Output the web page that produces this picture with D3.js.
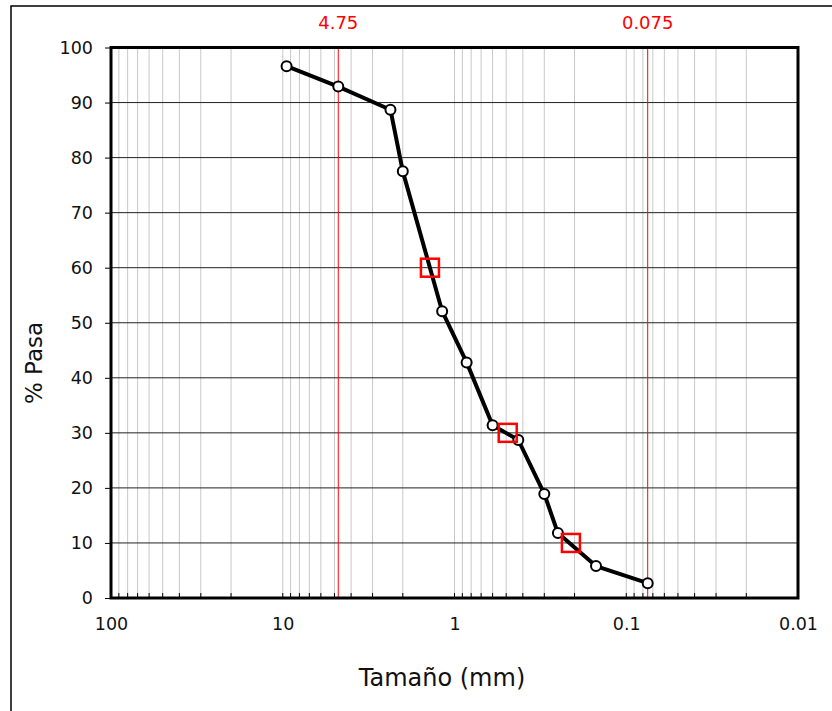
<!DOCTYPE html>
<html>
<head>
<meta charset="utf-8">
<script src="https://cdn.jsdelivr.net/npm/d3@7"></script>
<style>
  body { margin: 0; background: #fff; }
  text { font-family: "DejaVu Sans", Verdana, sans-serif; }
</style>
</head>
<body>
<div id="container"></div>
<script>
// granulometria: tamaño (mm) y % que pasa
const sizes   = [9.5, 4.75, 2.36, 2.0, 1.18, 0.85, 0.6, 0.425, 0.3, 0.25, 0.15, 0.075];
const passing = [96.6, 92.9, 88.7, 77.5, 52.1, 42.8, 31.4, 28.7, 18.9, 11.8, 5.8, 2.7];
// D60, D30, D10
const dSizes   = [1.39, 0.49, 0.21];
const dPassing = [60, 30, 10];
// lineas de referencia
const refLines = [4.75, 0.075];
const xTicks = [100, 10, 1, 0.1, 0.01];
const yTicks = [0, 10, 20, 30, 40, 50, 60, 70, 80, 90, 100];

const width = 832, height = 711;
const m = {left: 111, right: 798, top: 47.5, bottom: 598};

const svg = d3.select("#container").append("svg")
    .attr("width", width)
    .attr("height", height);

// marco exterior
svg.append("path")
    .attr("d", `M11,${height} L11,6 L${width},6`)
    .attr("fill", "none")
    .attr("stroke", "#000")
    .attr("stroke-width", 1.5);

const x = d3.scaleLog().domain([100, 0.01]).range([m.left, m.right]);
const y = d3.scaleLinear().domain([0, 100]).range([m.bottom, m.top]);

// grilla vertical (menores)
const minor = [];
for (let e = -2; e < 2; e++)
  for (let k = 1; k < 10; k++) minor.push(k * Math.pow(10, e));
const inner = minor.filter(v => v > 0.01 && v < 100);

svg.append("g")
    .attr("stroke", "#c8c8c8")
    .attr("stroke-width", 1)
  .selectAll("line")
  .data(inner)
  .join("line")
    .attr("x1", d => x(d)).attr("x2", d => x(d))
    .attr("y1", m.top).attr("y2", m.bottom);

// marcas menores sobre el eje x
svg.append("g")
    .attr("stroke", "#000")
    .attr("stroke-width", 1)
  .selectAll("line")
  .data(inner)
  .join("line")
    .attr("x1", d => x(d)).attr("x2", d => x(d))
    .attr("y1", m.bottom - 5).attr("y2", m.bottom);

// grilla horizontal
svg.append("g")
    .attr("stroke", "#222")
    .attr("stroke-width", 1)
  .selectAll("line")
  .data(yTicks.slice(1, -1))
  .join("line")
    .attr("x1", m.left).attr("x2", m.right)
    .attr("y1", d => y(d)).attr("y2", d => y(d));

// lineas rojas
svg.append("g")
    .attr("stroke", "#ff0000")
    .attr("stroke-width", 1)
  .selectAll("line")
  .data(refLines)
  .join("line")
    .attr("x1", d => x(d)).attr("x2", d => x(d))
    .attr("y1", m.top).attr("y2", m.bottom);

svg.append("g")
    .attr("fill", "#ff0000")
    .attr("font-size", "18px")
    .attr("text-anchor", "middle")
  .selectAll("text")
  .data(refLines)
  .join("text")
    .attr("x", d => x(d))
    .attr("y", 29)
    .text(d => d);

// ejes
const yAxis = svg.append("g")
    .attr("transform", `translate(${m.left},0)`)
    .call(d3.axisLeft(y).tickValues(yTicks).tickSize(6).tickPadding(12));
yAxis.select(".domain").remove();
yAxis.selectAll("text").attr("font-size", "17.5px").attr("font-family", "DejaVu Sans").attr("fill", "#111");

const xAxis = svg.append("g")
    .attr("transform", `translate(0,${m.bottom})`)
    .call(d3.axisBottom(x).tickValues(xTicks).tickFormat(d => d).tickSize(0).tickPadding(20));
xAxis.select(".domain").remove();
xAxis.selectAll("text").attr("font-size", "17.5px").attr("font-family", "DejaVu Sans").attr("fill", "#111");

// borde del area
svg.append("rect")
    .attr("x", m.left).attr("y", m.top)
    .attr("width", m.right - m.left).attr("height", m.bottom - m.top)
    .attr("fill", "none")
    .attr("stroke", "#000")
    .attr("stroke-width", 3);

// curva
const pts = sizes.map((s, i) => [s, passing[i]]);
svg.append("path")
    .datum(pts)
    .attr("fill", "none")
    .attr("stroke", "#000")
    .attr("stroke-width", 4)
    .attr("stroke-linejoin", "round")
    .attr("d", d3.line().x(d => x(d[0])).y(d => y(d[1])));

svg.append("g")
  .selectAll("circle")
  .data(pts)
  .join("circle")
    .attr("cx", d => x(d[0])).attr("cy", d => y(d[1]))
    .attr("r", 5)
    .attr("fill", "#fff")
    .attr("stroke", "#000")
    .attr("stroke-width", 2);

// D60 D30 D10
svg.append("g")
  .selectAll("rect")
  .data(dSizes.map((s, i) => [s, dPassing[i]]))
  .join("rect")
    .attr("x", d => x(d[0]) - 9).attr("y", d => y(d[1]) - 9)
    .attr("width", 18).attr("height", 18)
    .attr("fill", "none")
    .attr("stroke", "#ff0000")
    .attr("stroke-width", 2.5);

// titulos
svg.append("text")
    .attr("x", 442).attr("y", 686)
    .attr("text-anchor", "middle")
    .attr("font-size", "24px")
    .attr("fill", "#111")
    .text("Tamaño (mm)");

svg.append("text")
    .attr("transform", "translate(42,363) rotate(-90)")
    .attr("text-anchor", "middle")
    .attr("font-size", "23px")
    .attr("fill", "#111")
    .text("% Pasa");
</script>
</body>
</html>
